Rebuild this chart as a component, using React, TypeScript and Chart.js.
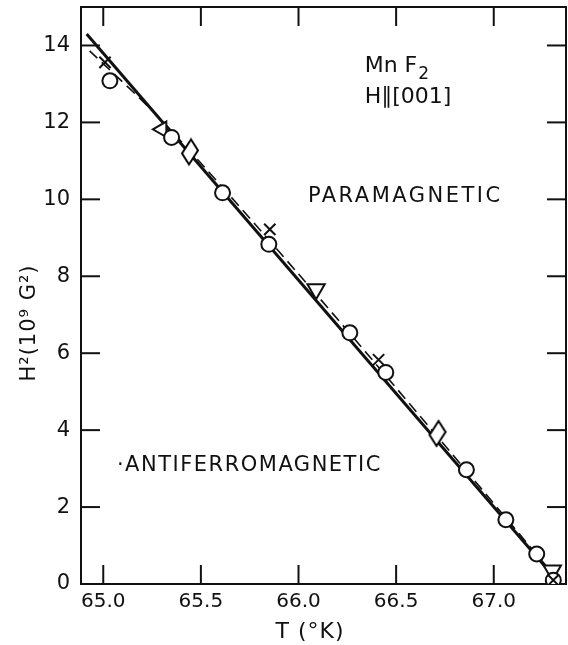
import React, { useEffect, useRef } from "react";
import { Chart, registerables } from "chart.js";

Chart.register(...registerables);

// ---- data ----
const circleT = [65.034, 65.35, 65.611, 65.848, 66.263, 66.447, 66.86, 67.062, 67.22, 67.305];
const circleH = [13.08, 11.61, 10.17, 8.83, 6.53, 5.5, 2.97, 1.67, 0.78, 0.1];
const crossT = [65.009, 65.853, 66.41, 67.305];
const crossH = [13.56, 9.22, 5.83, 0.1];
const triLeftT = [65.3];
const triLeftH = [11.82];
const triDownT = [66.09, 67.3];
const triDownH = [7.66, 0.35];
const diamondT = [65.444, 66.712];
const diamondH = [11.22, 3.9];
const solidT = [64.915, 67.34];
const solidH = [14.3, 0.0];
const dashedT = [64.93, 65.3, 66.0, 66.7, 67.33];
const dashedH = [13.86, 12.05, 8.06, 3.9, 0.1];

const xTickStep = 0.5;
const yTickStep = 2;
const xMin = 64.886;
const xMax = 67.37;
const yMin = 0;
const yMax = 15;

const xTitle = "T (°K)";
const yTitle = "H²(10⁹ G²)";
const paraLabel = "PARAMAGNETIC";
const antiLabel = "·ANTIFERROMAGNETIC";
const compoundMain = "Mn F";
const compoundSub = "2";
const fieldLabel = "H∥[001]";

const FONT = "'DejaVu Sans', 'Liberation Sans', sans-serif";

const pts = (xs: number[], ys: number[]) => xs.map((x, i) => ({ x, y: ys[i] }));

function makeDiamond(): HTMLCanvasElement {
  const c = document.createElement("canvas");
  c.width = 20;
  c.height = 30;
  const g = c.getContext("2d")!;
  g.beginPath();
  g.moveTo(11, 2);
  g.lineTo(18, 13);
  g.lineTo(9, 27);
  g.lineTo(2, 16);
  g.closePath();
  g.fillStyle = "#fff";
  g.fill();
  g.lineWidth = 2;
  g.strokeStyle = "#000";
  g.stroke();
  return c;
}

const framePlugin = {
  id: "frameTicks",
  beforeDatasetsDraw(chart: any) {
    const { ctx, chartArea: a, scales } = chart;
    const x = scales.x;
    const y = scales.y;
    ctx.save();
    ctx.strokeStyle = "#111";
    ctx.lineWidth = 2;
    ctx.strokeRect(a.left, a.top, a.right - a.left, a.bottom - a.top);
    const seg = (x1: number, y1: number, x2: number, y2: number) => {
      ctx.beginPath();
      ctx.moveTo(x1, y1);
      ctx.lineTo(x2, y2);
      ctx.stroke();
    };
    x.ticks.forEach((t: any) => {
      const px = x.getPixelForValue(t.value);
      seg(px, a.bottom, px, a.bottom - 19);
      seg(px, a.top, px, a.top + 19);
    });
    y.ticks.forEach((t: any) => {
      if (t.value === 0) return;
      const py = y.getPixelForValue(t.value);
      seg(a.left, py, a.left + 19, py);
      seg(a.right, py, a.right - 19, py);
    });

    // annotations placed through the scales
    ctx.fillStyle = "#111";
    ctx.textBaseline = "alphabetic";
    ctx.textAlign = "left";
    ctx.font = `21px ${FONT}`;
    (ctx as any).letterSpacing = "2.5px";
    ctx.fillText(paraLabel, x.getPixelForValue(66.048), y.getPixelForValue(9.92));
    (ctx as any).letterSpacing = "1.5px";
    ctx.fillText(antiLabel, x.getPixelForValue(65.07), y.getPixelForValue(2.94));
    (ctx as any).letterSpacing = "0px";
    ctx.font = `22px ${FONT}`;
    const mx = x.getPixelForValue(66.339);
    const my = y.getPixelForValue(13.3);
    ctx.fillText(compoundMain, mx, my);
    const w = ctx.measureText(compoundMain).width;
    ctx.font = `17px ${FONT}`;
    ctx.fillText(compoundSub, mx + w + 1, my + 7);
    ctx.font = `22px ${FONT}`;
    ctx.fillText(fieldLabel, x.getPixelForValue(66.339), y.getPixelForValue(12.5));

    // axis titles
    ctx.font = `22px ${FONT}`;
    ctx.textAlign = "center";
    ctx.textBaseline = "middle";
    (ctx as any).letterSpacing = "1px";
    ctx.fillText(xTitle, 310, 632);
    ctx.save();
    ctx.translate(30, 323);
    ctx.rotate(-Math.PI / 2);
    ctx.font = `21px ${FONT}`;
    ctx.fillText(yTitle, 0, 0);
    ctx.restore();
    ctx.restore();
  },
};

export default function App() {
  const ref = useRef<HTMLCanvasElement | null>(null);
  useEffect(() => {
    document.body.style.margin = "0";
    const canvas = ref.current!;
    const diamond = makeDiamond();
    const markerBase = {
      showLine: false,
      borderColor: "#111",
      backgroundColor: "#fff",
      borderWidth: 2,
      order: 1,
    };
    const chart = new Chart(canvas, {
      type: "scatter",
      data: {
        datasets: [
          {
            label: "fit",
            data: pts(solidT, solidH),
            showLine: true,
            borderColor: "#111",
            borderWidth: 3,
            pointRadius: 0,
            order: 3,
          },
          {
            label: "theory",
            data: pts(dashedT, dashedH),
            showLine: true,
            borderColor: "#111",
            borderWidth: 1.6,
            borderDash: [11, 6],
            pointRadius: 0,
            tension: 0.3,
            order: 2,
          },
          { ...markerBase, label: "circles", data: pts(circleT, circleH), pointStyle: "circle", pointRadius: 7.5 },
          {
            ...markerBase,
            label: "crosses",
            data: pts(crossT, crossH),
            pointStyle: "crossRot",
            pointRadius: 8,
            order: 0,
          },
          {
            ...markerBase,
            label: "tri left",
            data: pts(triLeftT, triLeftH),
            pointStyle: "triangle",
            pointRotation: 270,
            pointRadius: 9,
          },
          {
            ...markerBase,
            label: "tri down",
            data: pts(triDownT, triDownH),
            pointStyle: "triangle",
            pointRotation: 180,
            pointRadius: 10,
          },
          { ...markerBase, label: "diamonds", data: pts(diamondT, diamondH), pointStyle: diamond as any },
        ],
      },
      options: {
        responsive: false,
        animation: false,
        devicePixelRatio: 1,
        layout: { autoPadding: false, padding: { top: 7, right: 2, left: 0, bottom: 0 } },
        plugins: { legend: { display: false }, tooltip: { enabled: false } },
        scales: {
          x: {
            type: "linear",
            min: xMin,
            max: xMax,
            grid: { display: false, drawTicks: false },
            border: { display: false },
            ticks: {
              stepSize: xTickStep,
              includeBounds: false,
              padding: 6,
              color: "#111",
              font: { family: FONT, size: 20 },
              maxRotation: 0,
              callback: (v: any) => Number(v).toFixed(1),
            },
            afterFit: (s: any) => {
              s.height = 61;
              s.paddingLeft = 0;
              s.paddingRight = 0;
            },
          },
          y: {
            type: "linear",
            min: yMin,
            max: yMax,
            grid: { display: false, drawTicks: false },
            border: { display: false },
            ticks: {
              stepSize: yTickStep,
              includeBounds: false,
              padding: 11,
              color: "#111",
              font: { family: FONT, size: 21 },
            },
            afterFit: (s: any) => {
              s.width = 81;
              s.paddingTop = 0;
              s.paddingBottom = 0;
            },
          },
        },
      },
      plugins: [framePlugin],
    });
    return () => chart.destroy();
  }, []);
  return (
    <div style={{ width: 568, height: 645, background: "#fff" }}>
      <canvas ref={ref} width={568} height={645} />
    </div>
  );
}
